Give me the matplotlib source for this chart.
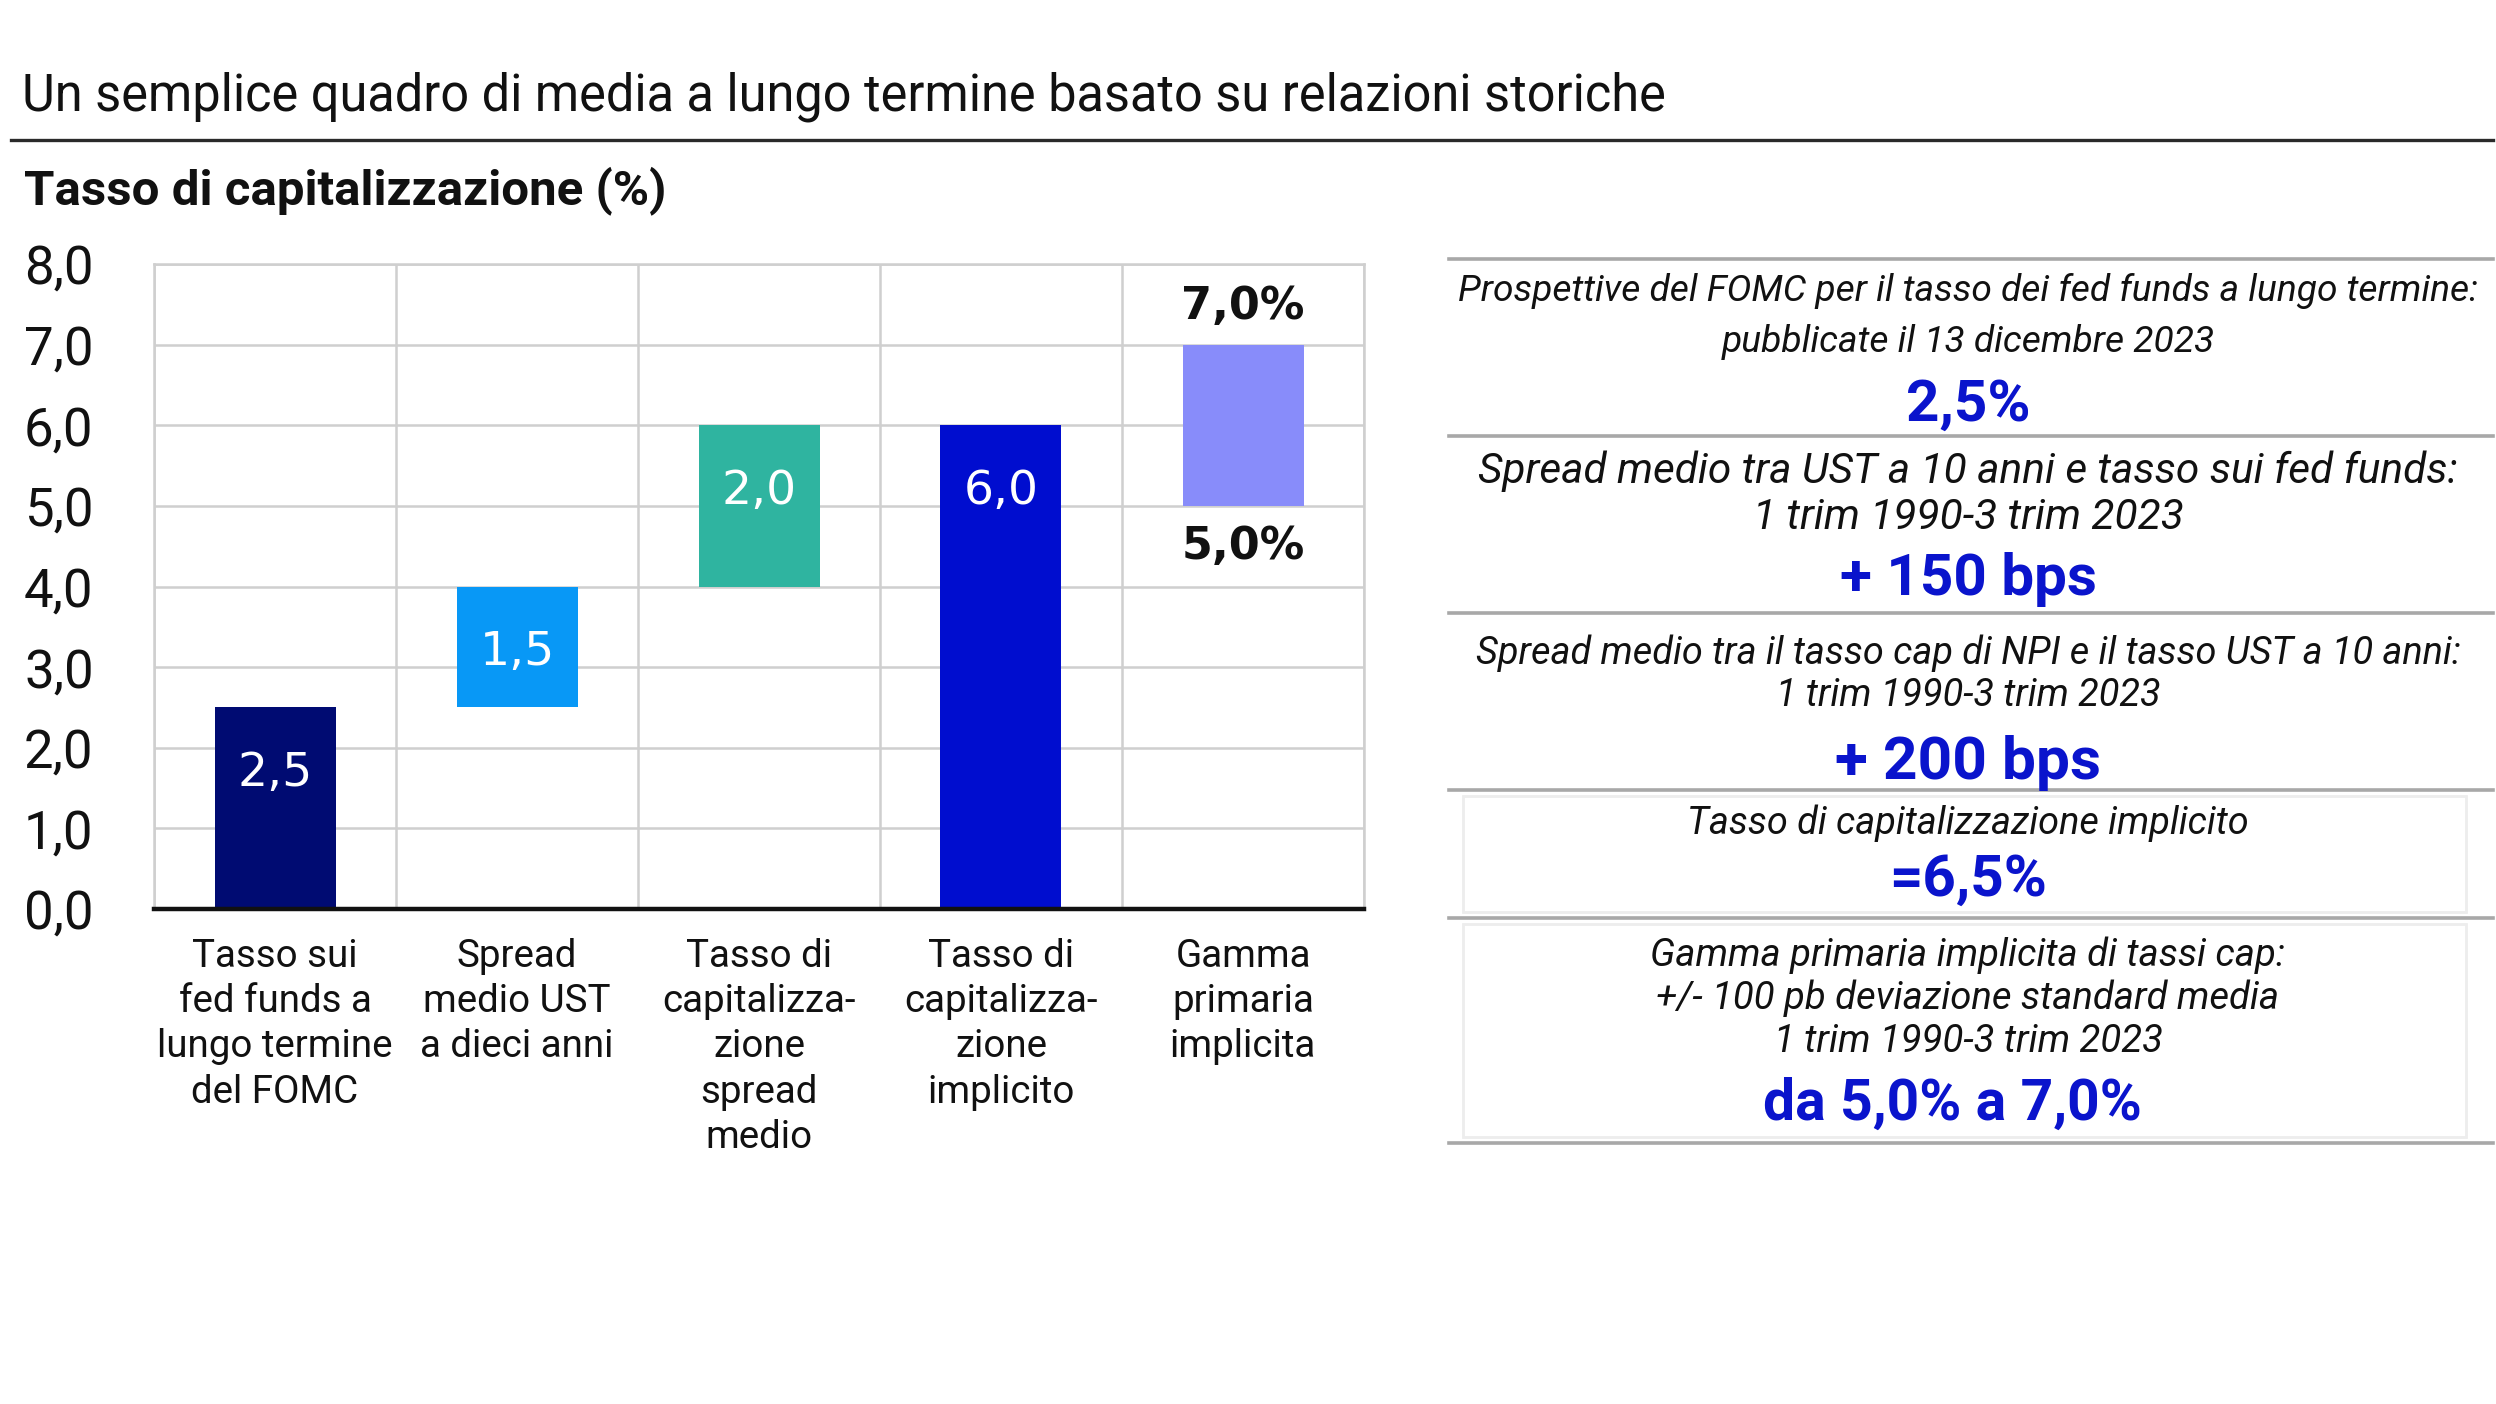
import matplotlib
matplotlib.use("Agg")
import matplotlib.pyplot as plt
from matplotlib.patches import Rectangle
from matplotlib.lines import Line2D

# ---------------- data ----------------
categories = [
    "Tasso sui\nfed funds a\nlungo termine\ndel FOMC",
    "Spread\nmedio UST\na dieci anni",
    "Tasso di\ncapitalizza-\nzione\nspread\nmedio",
    "Tasso di\ncapitalizza-\nzione\nimplicito",
    "Gamma\nprimaria\nimplicita",
]
bar_bottoms = [0.0, 2.5, 4.0, 0.0, 5.0]
bar_heights = [2.5, 1.5, 2.0, 6.0, 2.0]
bar_labels = ["2,5", "1,5", "2,0", "6,0", ""]
range_low_label = "5,0%"
range_high_label = "7,0%"
bar_colors = ["#000b72", "#0898f6", "#2fb4a0", "#000dcf", "#888cfa"]
y_ticks = [0, 1, 2, 3, 4, 5, 6, 7, 8]
y_tick_labels = ["0,0", "1,0", "2,0", "3,0", "4,0", "5,0", "6,0", "7,0", "8,0"]

title = "Un semplice quadro di media a lungo termine basato su relazioni storiche"
subtitle = "Tasso di capitalizzazione (%)"

panel_texts = [
    ["Prospettive del FOMC per il tasso dei fed funds a lungo termine:",
     "pubblicate il 13 dicembre 2023"],
    ["Spread medio tra UST a 10 anni e tasso sui fed funds:",
     "1 trim 1990-3 trim 2023"],
    ["Spread medio tra il tasso cap di NPI e il tasso UST a 10 anni:",
     "1 trim 1990-3 trim 2023"],
    ["Tasso di capitalizzazione implicito"],
    ["Gamma primaria implicita di tassi cap:",
     "+/- 100 pb deviazione standard media",
     "1 trim 1990-3 trim 2023"],
]
panel_values = ["2,5%", "+ 150 bps", "+ 200 bps", "=6,5%", "da 5,0% a 7,0%"]

# ---------------- figure ----------------
W, H = 2496, 1404
fig = plt.figure(figsize=(W / 100, H / 100), dpi=100)
fig.patch.set_facecolor("white")

def fx(px):
    return px / W

def fy(py):
    return 1 - py / H

SANS = ["Roboto", "DejaVu Sans"]
BLUE = "#0a14cc"

fig.text(fx(22), fy(97), title, fontsize=36.4, family=SANS, va="center", ha="left", color="#111111")
fig.add_artist(Line2D([fx(11), fx(2493)], [fy(140), fy(140)], color="#2a2a2a", lw=2.4))
fig.text(fx(24), fy(191), subtitle, fontsize=35.5, family=SANS, weight="bold", va="center", ha="left", color="#111111")

# ---------------- bar chart ----------------
ax = fig.add_axes([fx(154), fy(909), fx(1364) - fx(154), fy(264) - fy(909)])
x = list(range(len(categories)))
ax.bar(x, bar_heights, bottom=bar_bottoms, width=0.5, color=bar_colors, zorder=3)

ax.set_xlim(-0.5, len(categories) - 0.5)
ax.set_ylim(0, 8)
ax.set_yticks(y_ticks)
ax.set_yticklabels(y_tick_labels, fontsize=38, family=SANS, color="#111111")
ax.set_xticks(x)
ax.set_xticklabels(categories, fontsize=27.7, family=SANS, color="#111111", linespacing=1.28, va="top")
ax.set_xticks([i - 0.5 for i in range(len(categories) + 1)], minor=True)
for lab in ax.get_yticklabels():
    lab.set_ha("left")
ax.tick_params(axis="y", length=0, pad=130 * 0.72)
ax.tick_params(axis="x", which="both", length=0, pad=21)
ax.grid(True, axis="y", which="major", color="#cfcfcf", lw=1.8, zorder=0)
ax.grid(True, axis="x", which="minor", color="#cfcfcf", lw=1.8, zorder=0)
ax.grid(False, axis="x", which="major")
for s in ["top", "left", "right"]:
    ax.spines[s].set_color("#cfcfcf")
    ax.spines[s].set_linewidth(1.8)
ax.spines["bottom"].set_color("#111111")
ax.spines["bottom"].set_linewidth(3.2)
ax.spines["bottom"].set_zorder(5)

for xi, b, h, lab in zip(x, bar_bottoms, bar_heights, bar_labels):
    if lab:
        ax.text(xi, b + h - 0.82, lab, ha="center", va="center", color="white",
                fontsize=34, family="DejaVu Sans", zorder=4)

last = len(categories) - 1
ax.text(last, bar_bottoms[last] + bar_heights[last] + 0.47, range_high_label, ha="center", va="center",
        fontsize=32, family="DejaVu Sans", weight="bold", color="#111111", zorder=4)
ax.text(last, bar_bottoms[last] - 0.5, range_low_label, ha="center", va="center",
        fontsize=32, family="DejaVu Sans", weight="bold", color="#111111", zorder=4)

# ---------------- right panel ----------------
lines_y = [259, 436, 613, 790, 918, 1143]
for ly in lines_y:
    fig.add_artist(Line2D([fx(1449), fx(2493)], [fy(ly), fy(ly)], color="#a8a8a8", lw=2.6))

# faint frames for last two panels
for top, bot in [(lines_y[3], lines_y[4]), (lines_y[4], lines_y[5])]:
    fig.add_artist(Rectangle((fx(1463), fy(bot - 6)), fx(2466) - fx(1463), fy(top + 6) - fy(bot - 6),
                             fill=False, edgecolor="#ededed", lw=2.0))

cx = fx(1968)
text_rows = [
    ([291, 342], 26.7, 405, 42, 1968),
    ([471, 518], 30.5, 580, 42, 1968),
    ([653, 696], 27.3, 763, 43.5, 1968),
    ([823], 27.3, 880, 42, 1968),
    ([955, 998, 1041], 27.5, 1104, 41, 1952),
]
for (ys, fs, vy, vfs, vx), lines_txt, val in zip(text_rows, panel_texts, panel_values):
    for yy, t in zip(ys, lines_txt):
        fig.text(cx, fy(yy), t, ha="center", va="center", fontsize=fs, family=SANS,
                 style="italic", color="#111111")
    fig.text(fx(vx), fy(vy), val, ha="center", va="center", fontsize=vfs, family=SANS,
             weight="bold", color=BLUE)

fig.savefig("out.png", dpi=100, facecolor="white")
